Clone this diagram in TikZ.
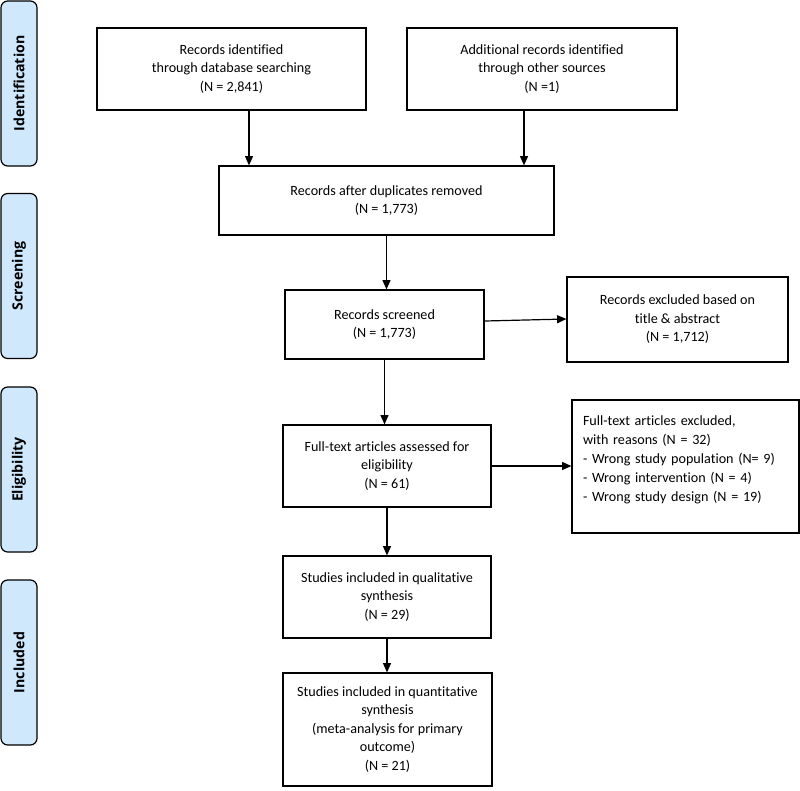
\documentclass[tikz,border=0pt]{standalone}
\usepackage{fontspec}
\setmainfont{Carlito}[Ligatures=NoCommon]
\newfontfamily\stagefont{Open Sans}
\usetikzlibrary{arrows.meta,calc}

\definecolor{stageblue}{HTML}{CFE8FC}

\begin{document}
\begin{tikzpicture}[x=0.75pt,y=-0.75pt,
    box/.style={draw, line width=0.9pt, align=center, inner sep=2pt,
        font=\fontsize{10.6}{13.9}\selectfont},
    stage/.style={draw, line width=0.9pt, fill=stageblue, rounded corners=5pt,
        minimum width=123.75pt, minimum height=27pt, rotate=90,
        font=\stagefont\bfseries\fontsize{10.6}{12}\selectfont},
    arr/.style={-{Triangle[length=7pt,width=6pt]}, line width=0.9pt}]
    \useasboundingbox (0,0) rectangle (800,790);

    % stages on the left
    \node[stage] (sIdent) at (19,83.5) {Identification};
    \node[stage] (sScreen) at (19,276) {Screening};
    \node[stage] (sElig) at (19,469.5) {Eligibility};
    \node[stage] (sIncl) at (19,662.5) {Included};

    % identification
    \node[box, minimum width=201.75pt, minimum height=61.5pt] (rDb) at (231.5,69)
        {Records identified\\through database searching\\(N = 2,841)};
    \node[box, minimum width=202.5pt, minimum height=61.5pt] (rOther) at (542,69)
        {Additional records identified\\through other sources\\(N =1)};

    % screening
    \node[box, minimum width=251.25pt, minimum height=51.75pt] (rDup) at (386.5,200.5)
        {Records after duplicates removed\\(N = 1,773)};
    \node[box, minimum width=149.25pt, minimum height=51.75pt] (rScreen) at (384.5,324.5)
        {Records screened\\(N = 1,773)};
    \node[box, minimum width=165.75pt, minimum height=63.75pt] (rExcl) at (677.5,319.5)
        {Records excluded based on\\title \& abstract\\(N = 1,712)};

    % eligibility
    \node[box, minimum width=156pt, minimum height=61.5pt] (fAssess) at (387,466)
        {Full-text articles assessed for\\eligibility\\(N = 61)};
    \node[box, align=left, inner xsep=8.25pt, text width=153.75pt,
        minimum height=99.75pt, font=\fontsize{10.6}{14.3}\selectfont] (fExcl) at (685.5,466.5)
        {Full-text articles excluded,\\with reasons (N = 32)\\- Wrong study population (N= 9)\\
         - Wrong intervention (N = 4)\\- Wrong study design (N = 19)\\[-2pt]~};

    % included
    \node[box, minimum width=156pt, minimum height=61.5pt] (sQual) at (387,597)
        {Studies included in qualitative\\synthesis\\(N = 29)};
    \node[box, minimum width=156.75pt, minimum height=84.75pt] (sQuant) at (387.5,729.5)
        {Studies included in quantitative\\synthesis\\(meta-analysis for primary\\outcome)\\(N = 21)};

    \coordinate (colDb) at (249,0);
    \coordinate (colOther) at (524,0);

    % arrows
    \draw[arr] (rDb.south -| colDb) -- (rDup.north -| colDb);
    \draw[arr] (rOther.south -| colOther) -- (rDup.north -| colOther);
    \draw[arr] (rDup.south) -- (rDup.south |- rScreen.north);
    \draw[arr] ($(rScreen.east)+(0,-3.5)$) -- ($(rExcl.west)+(0,-0.5)$);
    \draw[arr] (rScreen.south) -- (rScreen.south |- fAssess.north);
    \draw[arr] (fAssess.east) -- (fAssess.east -| fExcl.west);
    \draw[arr] (fAssess.south) -- (fAssess.south |- sQual.north);
    \draw[arr] (sQual.south) -- (sQual.south |- sQuant.north);
\end{tikzpicture}
\end{document}
